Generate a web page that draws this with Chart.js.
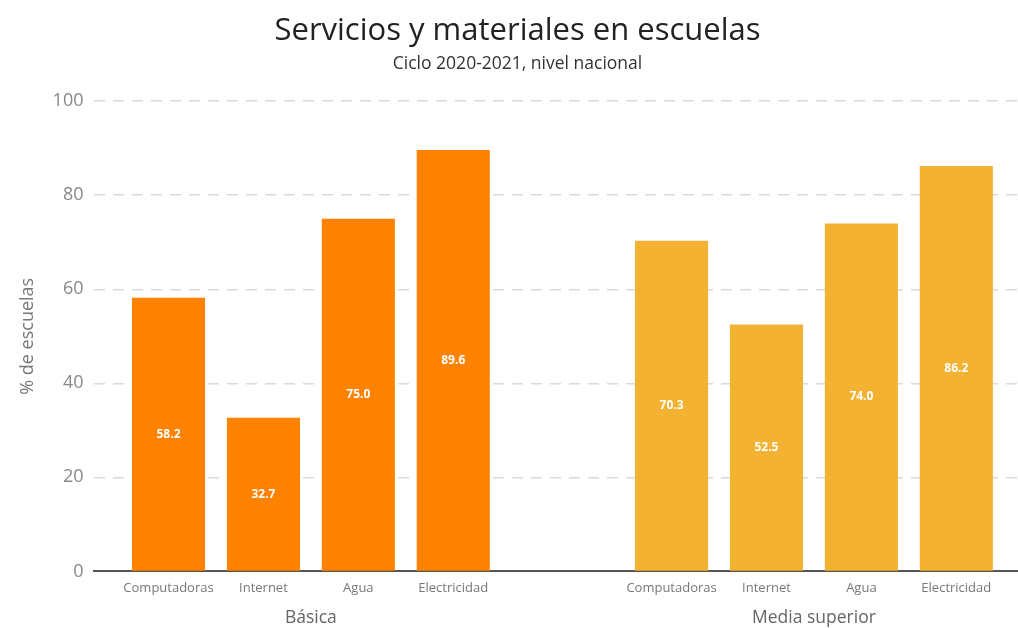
<!DOCTYPE html>
<html>
<head>
<meta charset="utf-8">
<script src="https://cdn.jsdelivr.net/npm/chart.js@4"></script>
<style>
  html, body { margin: 0; padding: 0; background: #fff; }
  #wrap { width: 1018px; height: 628px; position: relative; }
</style>
</head>
<body>
<div id="wrap"><canvas id="chart"></canvas></div>
<script>
// Data
const categories = ['Computadoras', 'Internet', 'Agua', 'Electricidad'];
const groups = ['Básica', 'Media superior'];
const basica = [58.2, 32.7, 75.0, 89.6];
const mediaSuperior = [70.3, 52.5, 74.0, 86.2];
const yTicks = [0, 20, 40, 60, 80, 100];

// second group starts this many category slots after the first one
const groupOffset = 5.3;

const fontFamily = '"Open Sans", "Noto Sans", sans-serif';

const toPoints = (vals, g) => vals.map((v, i) => ({ x: i + g * groupOffset, y: v }));
const tickPositions = [];
const tickLabels = {};
groups.forEach((g, gi) => {
    categories.forEach((c, i) => {
        const pos = i + gi * groupOffset;
        tickPositions.push(pos);
        tickLabels[pos.toFixed(3)] = c;
    });
});
const groupCenters = groups.map((g, gi) => (categories.length - 1) / 2 + gi * groupOffset);
const groupLabels = {};
groupCenters.forEach((p, gi) => { groupLabels[p.toFixed(3)] = groups[gi]; });

// white value labels in the middle of each bar
const barLabels = {
    id: 'barLabels',
    afterDatasetsDraw(chart) {
        const ctx = chart.ctx;
        ctx.save();
        ctx.fillStyle = '#ffffff';
        ctx.font = 'bold 12px ' + fontFamily;
        ctx.textAlign = 'center';
        ctx.textBaseline = 'middle';
        chart.data.datasets.forEach((ds, di) => {
            chart.getDatasetMeta(di).data.forEach((bar, i) => {
                const mid = (bar.y + bar.base) / 2;
                ctx.fillText(ds.data[i].y.toFixed(1), bar.x, mid);
            });
        });
        ctx.restore();
    }
};

const xMin = -0.78;
const xMax = 8.95;

new Chart(document.getElementById('chart'), {
    type: 'bar',
    data: {
        datasets: [{
            label: groups[0],
            data: toPoints(basica, 0),
            backgroundColor: '#ff8200',
            xAxisID: 'x'
        }, {
            label: groups[1],
            data: toPoints(mediaSuperior, 1),
            backgroundColor: '#f4b233',
            xAxisID: 'x'
        }]
    },
    options: {
        responsive: true,
        maintainAspectRatio: false,
        animation: false,
        grouped: false,
        categoryPercentage: 1,
        barPercentage: 0.77,
        layout: { padding: { left: 17, right: 0, top: 0, bottom: -4 } },
        plugins: {
            legend: { display: false },
            tooltip: { enabled: false },
            title: {
                display: true,
                text: 'Servicios y materiales en escuelas',
                color: '#222222',
                font: { family: fontFamily, size: 31, weight: 500 },
                padding: { top: 13, bottom: 3 }
            },
            subtitle: {
                display: true,
                text: 'Ciclo 2020-2021, nivel nacional',
                color: '#333333',
                font: { family: fontFamily, size: 17.5 },
                padding: { top: 0, bottom: 27 }
            }
        },
        scales: {
            x: {
                type: 'linear',
                position: 'bottom',
                offset: false,
                weight: 1,
                min: xMin,
                max: xMax,
                afterBuildTicks(scale) {
                    scale.ticks = tickPositions.map(v => ({ value: v }));
                },
                ticks: {
                    autoSkip: false,
                    maxRotation: 0,
                    color: '#777777',
                    font: { family: fontFamily, size: 13 },
                    padding: 9,
                    callback: v => tickLabels[Number(v).toFixed(3)] || ''
                },
                grid: { display: false, drawTicks: false },
                border: { display: true, color: '#555555', width: 2 }
            },
            x2: {
                type: 'linear',
                position: 'bottom',
                offset: false,
                weight: 2,
                min: xMin,
                max: xMax,
                afterBuildTicks(scale) {
                    scale.ticks = groupCenters.map(v => ({ value: v }));
                },
                ticks: {
                    autoSkip: false,
                    maxRotation: 0,
                    color: '#666666',
                    font: { family: fontFamily, size: 17.5 },
                    padding: 3,
                    callback: v => groupLabels[Number(v).toFixed(3)] || ''
                },
                grid: { display: false, drawTicks: false },
                border: { display: false }
            },
            y: {
                min: 0,
                max: 100,
                afterBuildTicks(scale) {
                    scale.ticks = yTicks.map(v => ({ value: v }));
                },
                title: {
                    display: true,
                    text: '% de escuelas',
                    color: '#777777',
                    font: { family: fontFamily, size: 18 },
                    padding: { top: 0, bottom: 3 }
                },
                ticks: {
                    color: '#888888',
                    font: { family: fontFamily, size: 18 },
                    padding: 11
                },
                grid: {
                    color: ctx => ctx.tick && ctx.tick.value === 0 ? 'rgba(0,0,0,0)' : '#dadada',
                    lineWidth: 1.5,
                    drawTicks: false
                },
                border: { display: false, dash: [11, 8] }
            }
        }
    },
    plugins: [barLabels]
});
</script>
</body>
</html>
